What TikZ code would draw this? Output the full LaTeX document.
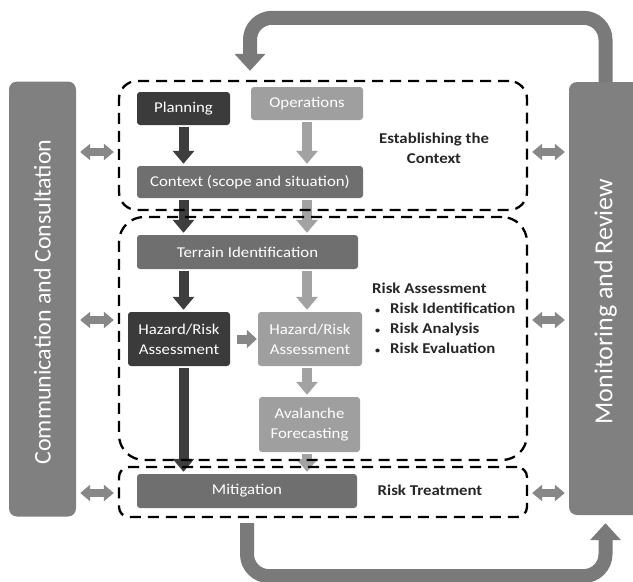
\documentclass[tikz,border=0pt]{standalone}
\usepackage{fontspec}
\setmainfont{Carlito}[FakeStretch=1.12]
\newfontfamily\barfont{Carlito}
\usetikzlibrary{arrows.meta,backgrounds}
\definecolor{bargray}{HTML}{808080}
\definecolor{loopgray}{HTML}{7A7A7A}
\definecolor{arrgray}{HTML}{878787}
\definecolor{darkbox}{HTML}{3B3B3B}
\definecolor{midbox}{HTML}{6F6F6F}
\definecolor{lightbox}{HTML}{9F9F9F}
\definecolor{darkarr}{HTML}{3E3E3E}
\definecolor{lightarr}{HTML}{A2A2A2}
\begin{document}
\begin{tikzpicture}
    [x=1pt, y=-1pt,
    blk/.style = {rounded corners=3pt, text=white, align=center, inner sep=0pt,
                  font=\fontsize{15}{20}\selectfont},
    zone/.style = {draw=black, dash pattern=on 11pt off 7pt, line width=2.3pt},
    bar/.style = {fill=bargray, rounded corners=8pt},
    bartext/.style = {rotate=90, text=white, font=\barfont\fontsize{24}{30}\selectfont},
    fat/.style = {line width=10pt, -{Triangle[width=21pt,length=13pt]},
                  shorten <=2pt, shorten >=2pt},
    dbl/.style = {draw=arrgray, line width=8pt, shorten <=4pt, shorten >=4pt,
                  {Triangle[width=16pt,length=10pt]}-{Triangle[width=16pt,length=10pt]}},
    feedback/.style = {draw=loopgray, line width=14pt, rounded corners=22pt,
                  -{Triangle[width=30pt,length=17pt]}},
    note/.style = {inner sep=0pt, text=black!85,
                  font=\bfseries\fontsize{15}{20}\selectfont}]
    \useasboundingbox (0,0) rectangle (633,582);
    \clip (0,0) rectangle (633,582);
    % Side bars
    \node[bar, minimum width=67pt, minimum height=435pt] (comm) at (42.5,299) {};
    \node[bartext] (commtxt) at ([yshift=-3pt]comm) {Communication and Consultation};
    \node[bar, minimum width=73pt, minimum height=433pt] (mon) at (605.5,298.5) {};
    \node[bartext, font=\barfont\fontsize{26}{30}\selectfont] (montxt) at ([yshift=-3pt]mon) {Monitoring and Review};
    % Process boxes
    \node[blk, fill=darkbox, minimum width=93pt, minimum height=33pt] (plan) at (183.5,108.5) {Planning};
    \node[blk, fill=lightbox, minimum width=112pt, minimum height=33pt] (ops) at (307,103.5) {Operations};
    \node[blk, fill=midbox, minimum width=226pt, minimum height=32pt] (ctx) at (250,182) {Context (scope and situation)};
    \node[blk, fill=midbox, minimum width=221pt, minimum height=34pt] (terr) at (247.5,252) {Terrain Identification};
    \node[blk, fill=darkbox, minimum width=102pt, minimum height=54pt] (hzd) at (179,339) {Hazard/Risk\\Assessment};
    \node[blk, fill=lightbox, minimum width=104pt, minimum height=54pt] (hzl) at (310,339) {Hazard/Risk\\Assessment};
    \node[blk, fill=lightbox, minimum width=101pt, minimum height=55pt] (aval) at (309.5,424.5) {Avalanche\\Forecasting};
    \node[blk, fill=midbox, minimum width=220pt, minimum height=34pt] (mit) at (247,491) {Mitigation};
    % Arrows between boxes
    \begin{scope}[on background layer]
        \draw[fat, draw=darkarr] (plan) -- (plan |- ctx.north);
        \draw[fat, draw=lightarr] (ops) -- (ops |- ctx.north);
        \draw[fat, draw=darkarr] (plan |- ctx.south) -- (plan |- terr.north);
        \draw[fat, draw=lightarr] (ops |- ctx.south) -- (ops |- terr.north);
        \draw[fat, draw=darkarr] (plan |- terr.south) -- (plan |- hzd.north);
        \draw[fat, draw=lightarr] (ops |- terr.south) -- (ops |- hzl.north);
        \draw[fat, draw=arrgray, line width=9pt, shorten <=7pt, shorten >=1pt,
              -{Triangle[width=18pt,length=10pt]}] (hzd) -- (hzl);
        \draw[fat, draw=lightarr] (ops |- hzl.south) -- (ops |- aval.north);
        \draw[fat, draw=darkarr] (plan |- hzd.south) -- (plan |- mit.north);
        \draw[fat, draw=lightarr] (ops |- aval.south) -- (ops |- mit.north);
    \end{scope}
    % Dashed zones
    \node[zone, rounded corners=18pt, minimum width=408pt, minimum height=129pt] (ctxbox) at (323,145.5) {};
    \node[zone, rounded corners=25pt, minimum width=408pt, minimum height=243pt] (assbox) at (323,338.5) {};
    \node[zone, rounded corners=10pt, minimum width=408pt, minimum height=50pt] (trtbox) at (323,492) {};
    % Zone labels
    \node[note, align=center] (ctxlbl) at (434,148) {Establishing the\\Context};
    \node[note, align=left, anchor=north west] (asslbl) at (372,283)
        {Risk Assessment\\
         \hspace*{3pt}{\fontsize{9}{9}\selectfont\textbullet}\hspace*{10pt}Risk Identification\\
         \hspace*{3pt}{\fontsize{9}{9}\selectfont\textbullet}\hspace*{10pt}Risk Analysis\\
         \hspace*{3pt}{\fontsize{9}{9}\selectfont\textbullet}\hspace*{10pt}Risk Evaluation};
    \node[note] (trtlbl) at (430,490) {Risk Treatment};
    % Links to the side bars
    \foreach \yy/\zz in {152/ctxbox, 320/assbox, 493/trtbox} {
        \draw[dbl] (comm.east |- 0,\yy) -- (\zz.west |- 0,\yy);
        \draw[dbl] (\zz.east |- 0,\yy) -- (mon.west |- 0,\yy);
    }
    % Feedback loops
    \draw[feedback] (mon.north) -- ++(0,-64) -| ([yshift=9pt]ctxbox.north -| ctx);
    \draw[feedback] ([yshift=-5pt]trtbox.south -| mit) -- ++(0,53) -| ([yshift=-8pt]mon.south);
\end{tikzpicture}
\end{document}
